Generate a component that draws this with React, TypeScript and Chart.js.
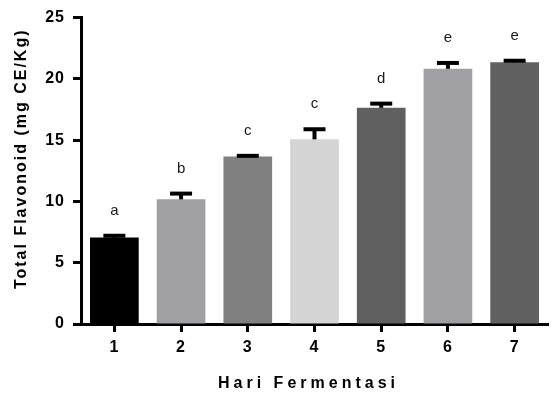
import React, { useEffect, useRef } from 'react';
import { Chart, registerables } from 'chart.js';

Chart.register(...registerables);

const days = ['1', '2', '3', '4', '5', '6', '7'];
const means = [7.05, 10.17, 13.67, 15.07, 17.64, 20.82, 21.36];
const sds = [0.15, 0.47, 0.05, 0.82, 0.34, 0.48, 0.12];
const letters = ['a', 'b', 'c', 'c', 'd', 'e', 'e'];
const barColors = ['#000000', '#a0a0a4', '#808080', '#d4d4d4', '#606060', '#a0a0a4', '#606060'];
const yMin = 0;
const yMax = 25;
const yStep = 5;
const xTitle = 'Hari Fermentasi';
const yTitle = 'Total Flavonoid (mg CE/Kg)';

const FONT = 'Arial, "Liberation Sans", Helvetica, sans-serif';

const decorPlugin = {
  id: 'decor',
  beforeDraw(chart: any) {
    (chart.ctx as any).letterSpacing = '1px';
  },
  afterDatasetsDraw(chart: any) {
    const ctx = chart.ctx as CanvasRenderingContext2D;
    const meta = chart.getDatasetMeta(0);
    const ys = chart.scales.y;
    meta.data.forEach((bar: any, i: number) => {
      const x = bar.x;
      const y0 = ys.getPixelForValue(means[i]);
      const y1 = ys.getPixelForValue(means[i] + sds[i]);
      ctx.save();
      ctx.strokeStyle = '#000';
      ctx.lineWidth = 4;
      ctx.lineCap = 'butt';
      ctx.beginPath();
      ctx.moveTo(x, y0);
      ctx.lineTo(x, y1);
      ctx.stroke();
      ctx.beginPath();
      ctx.moveTo(x - 11, y1);
      ctx.lineTo(x + 11, y1);
      ctx.stroke();
      (ctx as any).letterSpacing = '0px';
      ctx.fillStyle = '#1a1a1a';
      ctx.font = `15px ${FONT}`;
      ctx.textAlign = 'center';
      ctx.textBaseline = 'middle';
      ctx.fillText(letters[i], x, y1 - 25);
      ctx.restore();
    });
  },
  afterDraw(chart: any) {
    const ctx = chart.ctx as CanvasRenderingContext2D;
    const a = chart.chartArea;
    ctx.save();
    ctx.fillStyle = '#000';
    ctx.textAlign = 'center';
    ctx.textBaseline = 'middle';
    ctx.font = `bold 16px ${FONT}`;
    (ctx as any).letterSpacing = '2px';
    ctx.translate(22, (a.top + a.bottom) / 2 - 12);
    ctx.rotate(-Math.PI / 2);
    ctx.fillText(yTitle, 0, 0);
    ctx.restore();

    ctx.save();
    ctx.fillStyle = '#000';
    ctx.textAlign = 'center';
    ctx.textBaseline = 'middle';
    ctx.font = `bold 16px ${FONT}`;
    (ctx as any).letterSpacing = '4px';
    ctx.fillText(xTitle, (a.left + a.right) / 2 - 6, 384);
    ctx.restore();
  },
};

export default function App() {
  const ref = useRef<HTMLCanvasElement | null>(null);
  useEffect(() => {
    if (!ref.current) return;
    const chart = new Chart(ref.current, {
      type: 'bar',
      data: {
        labels: days,
        datasets: [
          {
            data: means,
            backgroundColor: barColors,
            borderWidth: 0,
            barPercentage: 0.73,
            categoryPercentage: 1,
          },
        ],
      },
      options: {
        animation: false,
        responsive: true,
        maintainAspectRatio: false,
        layout: { padding: { top: 15, right: 4, left: 0, bottom: 0 } },
        plugins: { legend: { display: false }, tooltip: { enabled: false } },
        scales: {
          x: {
            type: 'category',
            offset: true,
            grid: {
              display: true,
              drawOnChartArea: false,
              offset: false,
              tickLength: 8,
              tickWidth: 3,
              tickColor: '#000',
            },
            border: { display: true, width: 3, color: '#000' },
            ticks: {
              color: '#000',
              padding: 6,
              font: { size: 16, weight: 'bold', family: FONT },
            },
            afterFit: (s: any) => {
              s.height = 78;
            },
          },
          y: {
            min: yMin,
            max: yMax,
            grid: {
              display: true,
              drawOnChartArea: false,
              tickLength: 8,
              tickWidth: 3,
              tickColor: '#000',
            },
            border: { display: true, width: 3, color: '#000' },
            ticks: {
              stepSize: yStep,
              color: '#000',
              padding: 8,
              font: { size: 16, weight: 'bold', family: FONT },
            },
            afterFit: (s: any) => {
              s.width = 81;
            },
          },
        },
      } as any,
      plugins: [decorPlugin],
    });
    return () => chart.destroy();
  }, []);
  return (
    <div style={{ position: 'fixed', left: 0, top: 0, width: 552, height: 402, background: '#fff' }}>
      <canvas ref={ref} />
    </div>
  );
}
